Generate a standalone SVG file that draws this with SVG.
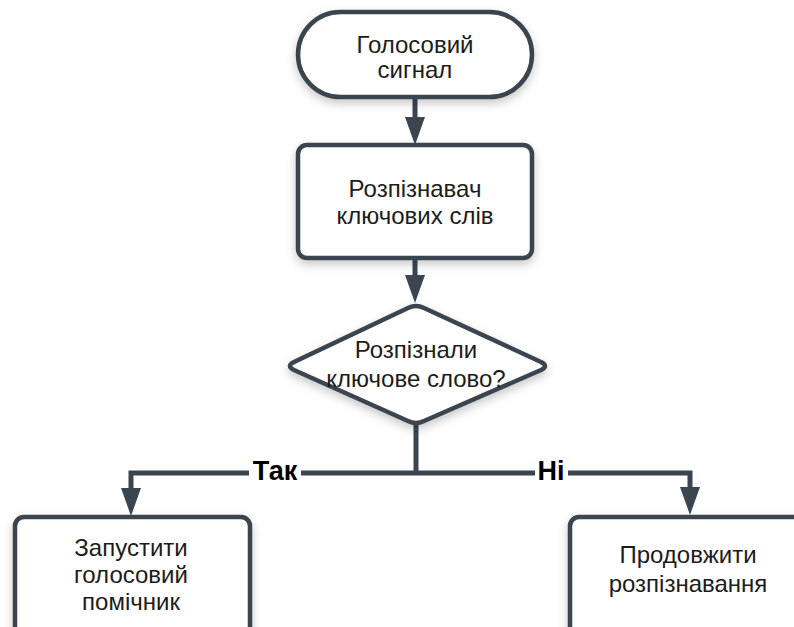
<svg xmlns="http://www.w3.org/2000/svg" width="794" height="627" viewBox="0 0 794 627">
  <style>
    .shape { fill: #ffffff; stroke: #3b4550; stroke-width: 4.5; stroke-linejoin: round; filter: url(#shadow); }
    .label { font-family: "Liberation Sans", Arial, sans-serif; font-size: 24px; fill: #1c1c1c; text-anchor: middle; }
    .branch { font-family: "Liberation Sans", Arial, sans-serif; font-size: 27px; font-weight: bold; fill: #000000; text-anchor: middle; }
    .wire { fill: none; stroke: #3b4550; stroke-width: 5; marker-end: url(#head); }
    .plain { fill: none; stroke: #3b4550; stroke-width: 5; }
  </style>
  <defs>
    <filter id="shadow" x="-20%" y="-20%" width="140%" height="150%">
      <feDropShadow dx="0" dy="4" stdDeviation="5" flood-color="#000000" flood-opacity="0.22"/>
    </filter>
    <marker id="head" viewBox="0 0 28 20" refX="0" refY="10" markerWidth="28" markerHeight="20" markerUnits="userSpaceOnUse" orient="auto">
      <path d="M0,0 L28,10 L0,20 Z" fill="#3b4550"/>
    </marker>
  </defs>
  <rect width="794" height="627" fill="#ffffff"/>

  <!-- connectors -->
  <g id="connectors">
    <path class="wire" d="M415,97 V117"/>
    <path class="wire" d="M415,258 V275"/>
    <path class="plain" d="M416,424 V473"/>
    <path class="wire" d="M416,473 H131 V488"/>
    <path class="wire" d="M416,473 H690 V487"/>
    <rect x="249" y="455" width="52" height="32" fill="#ffffff"/>
    <text class="branch" x="275" y="480">Так</text>
    <rect x="535" y="455" width="33" height="32" fill="#ffffff"/>
    <text class="branch" x="551" y="480">Ні</text>
  </g>

  <g id="start">
    <rect class="shape" x="298" y="12" width="234" height="85" rx="42.5"/>
    <text class="label" x="415" y="53">Голосовий</text>
    <text class="label" x="415" y="78">сигнал</text>
  </g>

  <g id="detector">
    <rect class="shape" x="298" y="145" width="234" height="113" rx="9"/>
    <text class="label" x="415" y="197">Розпізнавач</text>
    <text class="label" x="415" y="224">ключових слів</text>
  </g>

  <g id="decision">
    <path class="shape" d="M408,308 Q416,304 424,308 L541,362 Q549,366 541,370 L424,421 Q416,425 408,421 L294,370 Q286,366 294,362 Z"/>
    <text class="label" x="416" y="358">Розпізнали</text>
    <text class="label" x="416" y="387">ключове слово?</text>
  </g>

  <g id="launch">
    <rect class="shape" x="15" y="517" width="235" height="135" rx="9"/>
    <text class="label" x="131" y="556">Запустити</text>
    <text class="label" x="131" y="583">голосовий</text>
    <text class="label" x="131" y="610">помічник</text>
  </g>

  <g id="continue">
    <rect class="shape" x="570" y="517" width="260" height="130" rx="9"/>
    <text class="label" x="688" y="563">Продовжити</text>
    <text class="label" x="688" y="592">розпізнавання</text>
  </g>
</svg>
